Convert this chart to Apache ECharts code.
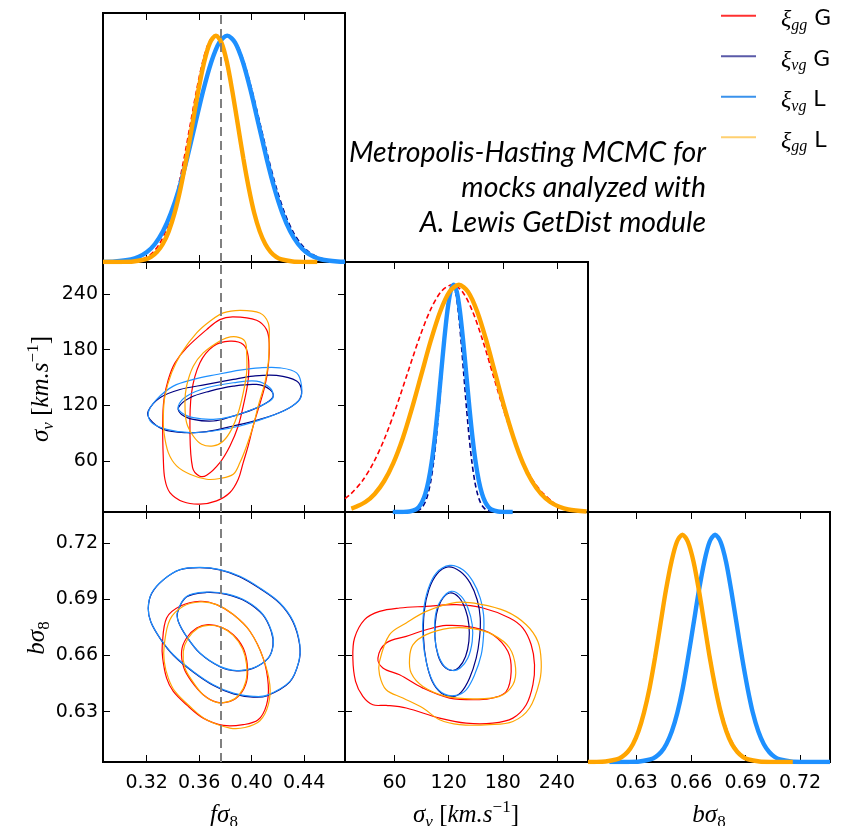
<!DOCTYPE html>
<html>
<head>
<meta charset="utf-8">
<script src="https://cdn.jsdelivr.net/npm/echarts@6.0.0/dist/echarts.min.js"></script>
<style>
  html, body { margin: 0; padding: 0; background: #fff; }
  #chart { width: 844px; height: 826px; }
</style>
</head>
<body>
<div id="chart"></div>
<script>
// ---------- parameter ranges and ticks ----------
const FS8_RANGE = [0.2867, 0.4712];
const SV_RANGE = [5, 274.5];
const BS8_RANGE = [0.6032, 0.7365];
const FS8_TICKS = [0.32, 0.36, 0.40, 0.44];
const SV_TICKS = [60, 120, 180, 240];
const BS8_TICKS = [0.63, 0.66, 0.69, 0.72];
const FID_FS8 = 0.3765;   // fiducial f*sigma8 of the mocks

// ---------- 1D marginal posteriors (normalised to peak = 1) ----------
const fs8_ggG = [[0.2867,0],[0.2968,0.0003],[0.3062,0.0022],[0.3156,0.0111],[0.3203,0.0228],[0.3250,0.0439],[0.3297,0.0796],[0.3344,0.1353],[0.3391,0.2163],[0.3438,0.3247],[0.3485,0.4578],[0.3532,0.6065],[0.3579,0.7548],[0.3626,0.8825],[0.3673,0.9692],[0.3720,1],[0.3763,0.9692],[0.3805,0.8825],[0.3848,0.7548],[0.3890,0.6065],[0.3933,0.4578],[0.3975,0.3247],[0.4018,0.2163],[0.4060,0.1353],[0.4103,0.0796],[0.4145,0.0439],[0.4188,0.0228],[0.4230,0.0111],[0.4315,0.0022],[0.4400,0.0003],[0.4500,0]];
const fs8_vgG = [[0.2867,0.0005],[0.2961,0.0022],[0.3083,0.0111],[0.3144,0.0228],[0.3206,0.0439],[0.3267,0.0796],[0.3328,0.1353],[0.3389,0.2163],[0.3451,0.3247],[0.3512,0.4578],[0.3573,0.6065],[0.3634,0.7548],[0.3696,0.8825],[0.3757,0.9692],[0.3818,1],[0.3880,0.9692],[0.3942,0.8825],[0.4004,0.7548],[0.4066,0.6065],[0.4128,0.4578],[0.4190,0.3247],[0.4252,0.2163],[0.4314,0.1353],[0.4376,0.0796],[0.4438,0.0439],[0.4500,0.0228],[0.4562,0.0111],[0.4686,0.0022],[0.4712,0.0015]];
const fs8_vgL = [[0.2867,0.0006],[0.2957,0.0022],[0.3079,0.0111],[0.3140,0.0228],[0.3202,0.0439],[0.3263,0.0796],[0.3324,0.1353],[0.3385,0.2163],[0.3447,0.3247],[0.3508,0.4578],[0.3569,0.6065],[0.3630,0.7548],[0.3692,0.8825],[0.3753,0.9692],[0.3814,1],[0.3874,0.9692],[0.3934,0.8825],[0.3994,0.7548],[0.4054,0.6065],[0.4114,0.4578],[0.4174,0.3247],[0.4234,0.2163],[0.4294,0.1353],[0.4354,0.0796],[0.4414,0.0439],[0.4474,0.0228],[0.4534,0.0111],[0.4654,0.0022],[0.4712,0.0009]];
const fs8_ggL = [[0.2867,0],[0.3008,0.0003],[0.3098,0.0022],[0.3188,0.0111],[0.3233,0.0228],[0.3278,0.0439],[0.3323,0.0796],[0.3368,0.1353],[0.3413,0.2163],[0.3458,0.3247],[0.3503,0.4578],[0.3548,0.6065],[0.3593,0.7548],[0.3638,0.8825],[0.3683,0.9692],[0.3728,1],[0.3770,0.9692],[0.3812,0.8825],[0.3853,0.7548],[0.3895,0.6065],[0.3937,0.4578],[0.3979,0.3247],[0.4020,0.2163],[0.4062,0.1353],[0.4104,0.0796],[0.4146,0.0439],[0.4187,0.0228],[0.4229,0.0111],[0.4313,0.0022],[0.4396,0.0003],[0.4500,0]];

const sv_ggG = [[5,0.059],[11.5,0.0796],[24,0.1353],[36.5,0.2163],[49,0.3247],[61.5,0.4578],[74,0.6065],[86.5,0.7548],[99,0.8825],[111.5,0.9692],[124,1],[135.25,0.9692],[146.5,0.8825],[157.75,0.7548],[169,0.6065],[180.25,0.4578],[191.5,0.3247],[202.75,0.2163],[214,0.1353],[225.25,0.0796],[236.5,0.040],[242,0.015]];
const sv_vgG = [[75.7,0.0003],[81.8,0.0022],[87.9,0.0111],[90.95,0.0228],[94.0,0.0439],[97.05,0.0796],[100.1,0.1353],[103.15,0.2163],[106.2,0.3247],[109.25,0.4578],[112.3,0.6065],[115.35,0.7548],[118.4,0.8825],[121.45,0.9692],[124.5,1],[127.55,0.9692],[130.6,0.8825],[133.65,0.7548],[136.7,0.6065],[139.75,0.4578],[142.8,0.3247],[145.85,0.2163],[148.9,0.1353],[151.95,0.0796],[155.0,0.0439],[158.05,0.0228],[161.1,0.0111],[167.2,0.0022],[173.3,0.0003]];
const sv_vgL = [[58,0],[69.5,0.0003],[76.5,0.0022],[83.5,0.0111],[87,0.0228],[90.5,0.0439],[94,0.0796],[97.5,0.1353],[101,0.2163],[104.5,0.3247],[108,0.4578],[111.5,0.6065],[115,0.7548],[118.5,0.8825],[122,0.9692],[125.5,1],[129,0.9692],[132.5,0.8825],[136,0.7548],[139.5,0.6065],[143,0.4578],[146.5,0.3247],[150,0.2163],[153.5,0.1353],[157,0.0796],[160.5,0.0439],[164,0.0228],[167.5,0.0111],[174.5,0.0022],[181.5,0.0003],[191,0]];
const sv_ggL = [[12,0.015],[17.2,0.0228],[27.6,0.0439],[37.9,0.0796],[48.3,0.1353],[58.7,0.2163],[69.1,0.3247],[79.4,0.4578],[89.8,0.6065],[100.2,0.7548],[110.6,0.8825],[120.9,0.9692],[131.3,1],[141.4,0.9692],[151.6,0.8825],[161.7,0.7548],[171.8,0.6065],[181.9,0.4578],[192.1,0.3247],[202.2,0.2163],[212.3,0.1353],[222.4,0.0796],[232.6,0.0439],[242.7,0.0228],[252.8,0.0111],[273,0.0022]];

const bs8_ggG = [[0.6032,0.0001],[0.6068,0.0003],[0.6128,0.0022],[0.6189,0.0111],[0.6219,0.0228],[0.6250,0.0439],[0.6280,0.0796],[0.6310,0.1353],[0.6340,0.2163],[0.6371,0.3247],[0.6401,0.4578],[0.6431,0.6065],[0.6461,0.7548],[0.6492,0.8825],[0.6522,0.9692],[0.6552,1],[0.6583,0.9692],[0.6614,0.8825],[0.6645,0.7548],[0.6676,0.6065],[0.6707,0.4578],[0.6738,0.3247],[0.6769,0.2163],[0.6800,0.1353],[0.6831,0.0796],[0.6862,0.0439],[0.6893,0.0228],[0.6924,0.0111],[0.6986,0.0022],[0.7048,0.0003],[0.716,0]];
const bs8_vgG = [[0.615,0],[0.6258,0.0003],[0.6318,0.0022],[0.6377,0.0111],[0.6407,0.0228],[0.6437,0.0439],[0.6466,0.0796],[0.6496,0.1353],[0.6526,0.2163],[0.6556,0.3247],[0.6585,0.4578],[0.6615,0.6065],[0.6645,0.7548],[0.6675,0.8825],[0.6704,0.9692],[0.6734,1],[0.6764,0.9692],[0.6794,0.8825],[0.6823,0.7548],[0.6853,0.6065],[0.6883,0.4578],[0.6913,0.3247],[0.6942,0.2163],[0.6972,0.1353],[0.7002,0.0796],[0.7032,0.0439],[0.7061,0.0228],[0.7091,0.0111],[0.7151,0.0022],[0.7210,0.0003],[0.7365,0]];
const bs8_vgL = [[0.615,0],[0.6256,0.0003],[0.6316,0.0022],[0.6375,0.0111],[0.6405,0.0228],[0.6435,0.0439],[0.6464,0.0796],[0.6494,0.1353],[0.6524,0.2163],[0.6554,0.3247],[0.6583,0.4578],[0.6613,0.6065],[0.6643,0.7548],[0.6673,0.8825],[0.6702,0.9692],[0.6732,1],[0.6762,0.9692],[0.6792,0.8825],[0.6821,0.7548],[0.6851,0.6065],[0.6881,0.4578],[0.6911,0.3247],[0.6940,0.2163],[0.6970,0.1353],[0.7000,0.0796],[0.7030,0.0439],[0.7059,0.0228],[0.7089,0.0111],[0.7149,0.0022],[0.7208,0.0003],[0.7365,0]];
const bs8_ggL = [[0.6032,0.0001],[0.6068,0.0003],[0.6128,0.0022],[0.6189,0.0111],[0.6219,0.0228],[0.6250,0.0439],[0.6280,0.0796],[0.6310,0.1353],[0.6340,0.2163],[0.6371,0.3247],[0.6401,0.4578],[0.6431,0.6065],[0.6461,0.7548],[0.6492,0.8825],[0.6522,0.9692],[0.6552,1],[0.6582,0.9692],[0.6613,0.8825],[0.6643,0.7548],[0.6673,0.6065],[0.6703,0.4578],[0.6734,0.3247],[0.6764,0.2163],[0.6794,0.1353],[0.6824,0.0796],[0.6855,0.0439],[0.6885,0.0228],[0.6915,0.0111],[0.6976,0.0022],[0.7036,0.0003],[0.716,0]];

// ---------- 2D contours (68% and 95%) : f*sigma8 vs sigma_v ----------
const fsSv_ggG_95 = [[0.3860,215.3],[0.4038,211.7],[0.4114,201.6],[0.4134,187.3],[0.4127,162.2],[0.4101,140.7],[0.4050,115.6],[0.4012,97.7],[0.3974,76.2],[0.3936,58.3],[0.3898,40.3],[0.3835,26.0],[0.3733,17.0],[0.3606,13.5],[0.3479,16.0],[0.3377,26.0],[0.3339,40.3],[0.3327,61.9],[0.3322,101.3],[0.3332,126.4],[0.3365,147.9],[0.3416,165.8],[0.3504,181.9],[0.3657,201.6],[0.3758,212.4]];
const fsSv_ggG_68 = [[0.3835,189.1],[0.3936,185.5],[0.3974,172.9],[0.3974,147.9],[0.3936,119.2],[0.3898,97.7],[0.3835,76.2],[0.3758,58.3],[0.3657,44.6],[0.3601,43.9],[0.3550,52.9],[0.3530,90.5],[0.3542,133.5],[0.3606,165.8],[0.3708,183.7]];
const fsSv_vgG_95 = [[0.3212,113.8],[0.3301,128.2],[0.3454,137.1],[0.3657,142.5],[0.3860,147.9],[0.4012,151.5],[0.4190,152.2],[0.4343,146.1],[0.4381,135.3],[0.4355,124.6],[0.4241,113.8],[0.4063,104.9],[0.3860,97.7],[0.3657,91.6],[0.3504,90.5],[0.3327,94.1],[0.3225,104.9]];
const fsSv_vgG_68 = [[0.3441,117.4],[0.3530,128.2],[0.3682,135.3],[0.3860,140.7],[0.4038,142.5],[0.4139,137.1],[0.4165,129.9],[0.4114,122.8],[0.4012,115.6],[0.3860,108.4],[0.3708,103.1],[0.3555,104.9],[0.3466,110.2]];
const fsSv_vgL_95 = [[0.3212,112.0],[0.3276,126.4],[0.3403,140.7],[0.3555,147.9],[0.3733,153.2],[0.3911,157.9],[0.4063,160.4],[0.4216,160.4],[0.4343,155.0],[0.4381,140.7],[0.4368,126.4],[0.4266,115.6],[0.4114,106.7],[0.3911,97.7],[0.3708,92.3],[0.3530,90.5],[0.3352,94.1],[0.3238,101.3]];
const fsSv_vgL_68 = [[0.3441,119.2],[0.3504,129.9],[0.3657,138.9],[0.3860,144.3],[0.4038,146.1],[0.4139,138.9],[0.4165,129.9],[0.4139,124.6],[0.4038,117.4],[0.3860,108.4],[0.3708,104.9],[0.3555,106.7],[0.3466,112.0]];
const fsSv_ggL_95 = [[0.3911,222.4],[0.4063,219.6],[0.4127,208.8],[0.4134,190.9],[0.4127,165.8],[0.4101,144.3],[0.4050,119.2],[0.4012,97.7],[0.3962,76.2],[0.3911,58.3],[0.3860,45.7],[0.3758,41.1],[0.3657,40.3],[0.3530,45.7],[0.3428,54.7],[0.3365,69.0],[0.3332,90.5],[0.3327,108.4],[0.3339,129.9],[0.3390,155.0],[0.3466,176.5],[0.3581,198.0],[0.3682,210.6],[0.3784,219.6]];
const fsSv_ggL_68 = [[0.3885,193.7],[0.3949,189.1],[0.3962,176.5],[0.3962,155.0],[0.3936,133.5],[0.3898,112.0],[0.3847,94.1],[0.3784,81.6],[0.3708,76.2],[0.3619,78.0],[0.3555,86.9],[0.3504,101.3],[0.3492,122.8],[0.3504,140.7],[0.3555,162.2],[0.3631,176.5],[0.3733,187.3],[0.3809,192.7]];

// ---------- 2D contours : f*sigma8 vs b*sigma8 ----------
const fsBs_ggG_95 = [[0.3319,0.6657],[0.3352,0.6800],[0.3454,0.6862],[0.3606,0.6889],[0.3733,0.6871],[0.3860,0.6818],[0.3987,0.6729],[0.4088,0.6586],[0.4127,0.6444],[0.4114,0.6337],[0.4050,0.6257],[0.3936,0.6231],[0.3784,0.6227],[0.3631,0.6266],[0.3504,0.6337],[0.3403,0.6408],[0.3352,0.6479],[0.3322,0.6586]];
const fsBs_ggG_68 = [[0.3466,0.6622],[0.3504,0.6693],[0.3581,0.6746],[0.3669,0.6764],[0.3771,0.6750],[0.3860,0.6711],[0.3936,0.6640],[0.3967,0.6551],[0.3962,0.6462],[0.3911,0.6391],[0.3835,0.6355],[0.3733,0.6351],[0.3631,0.6391],[0.3542,0.6462],[0.3484,0.6533]];
const fsBs_vgG_95 = [[0.4012,0.6378],[0.4114,0.6384],[0.4290,0.6458],[0.4360,0.6566],[0.4366,0.6657],[0.4315,0.6780],[0.4214,0.6878],[0.4060,0.6958],[0.3908,0.7020],[0.3758,0.7056],[0.3606,0.7068],[0.3454,0.7057],[0.3327,0.7003],[0.3238,0.6930],[0.3212,0.6850],[0.3232,0.6778],[0.3303,0.6690],[0.3405,0.6600],[0.3557,0.6511],[0.3710,0.6440],[0.3862,0.6395]];
const fsBs_vgG_68 = [[0.3437,0.6833],[0.3505,0.6913],[0.3657,0.6936],[0.3809,0.6926],[0.3960,0.6887],[0.4086,0.6816],[0.4150,0.6727],[0.4163,0.6655],[0.4125,0.6584],[0.4010,0.6531],[0.3885,0.6518],[0.3758,0.6540],[0.3607,0.6611],[0.3505,0.6700],[0.3442,0.6780]];
const fsBs_vgL_95 = [[0.4012,0.6382],[0.4114,0.6387],[0.4292,0.6462],[0.4360,0.6568],[0.4368,0.6657],[0.4317,0.6782],[0.4216,0.6880],[0.4063,0.6960],[0.3911,0.7022],[0.3758,0.7058],[0.3606,0.7070],[0.3454,0.7058],[0.3327,0.7004],[0.3238,0.6933],[0.3212,0.6853],[0.3230,0.6782],[0.3301,0.6693],[0.3403,0.6604],[0.3555,0.6515],[0.3708,0.6444],[0.3860,0.6399]];
const fsBs_vgL_68 = [[0.3436,0.6835],[0.3504,0.6915],[0.3657,0.6938],[0.3809,0.6928],[0.3962,0.6889],[0.4088,0.6818],[0.4152,0.6729],[0.4165,0.6657],[0.4127,0.6586],[0.4012,0.6533],[0.3885,0.6520],[0.3758,0.6542],[0.3606,0.6613],[0.3504,0.6702],[0.3441,0.6782]];
const fsBs_ggL_95 = [[0.3334,0.6657],[0.3377,0.6791],[0.3479,0.6862],[0.3606,0.6885],[0.3733,0.6871],[0.3860,0.6818],[0.3987,0.6729],[0.4088,0.6586],[0.4139,0.6444],[0.4127,0.6337],[0.4063,0.6252],[0.3949,0.6216],[0.3835,0.6213],[0.3657,0.6257],[0.3530,0.6328],[0.3416,0.6408],[0.3365,0.6479],[0.3334,0.6568]];
const fsBs_ggL_68 = [[0.3479,0.6622],[0.3517,0.6693],[0.3593,0.6746],[0.3669,0.6761],[0.3771,0.6750],[0.3860,0.6707],[0.3931,0.6636],[0.3962,0.6551],[0.3956,0.6462],[0.3906,0.6391],[0.3830,0.6355],[0.3733,0.6350],[0.3636,0.6387],[0.3550,0.6462],[0.3492,0.6533]];

// ---------- 2D contours : sigma_v vs b*sigma8 ----------
const svBs_ggG_95 = [[13.7,0.6586],[15.6,0.6693],[26.7,0.6791],[43.3,0.6835],[65.5,0.6853],[95.1,0.6862],[128.4,0.6871],[158.0,0.6853],[187.5,0.6800],[202.3,0.6746],[211.5,0.6657],[215.2,0.6551],[213.4,0.6444],[206.0,0.6337],[191.2,0.6266],[169.0,0.6239],[139.4,0.6239],[109.9,0.6266],[72.9,0.6320],[50.7,0.6334],[35.9,0.6337],[24.8,0.6382],[16.7,0.6462]];
const svBs_ggG_68 = [[41.5,0.6586],[50.7,0.6666],[72.9,0.6702],[95.1,0.6737],[117.3,0.6760],[146.8,0.6750],[169.0,0.6711],[185.6,0.6622],[189.3,0.6515],[183.8,0.6408],[169.0,0.6373],[154.2,0.6364],[121.0,0.6373],[91.4,0.6426],[65.5,0.6497],[47.0,0.6533]];
const svBs_vgG_95 = [[119.1,0.7072],[132.8,0.7048],[143.9,0.6986],[151.6,0.6897],[155.0,0.6800],[154.2,0.6693],[150.5,0.6586],[143.1,0.6479],[133.9,0.6405],[124.7,0.6382],[111.7,0.6400],[101.7,0.6462],[95.1,0.6568],[92.1,0.6693],[92.9,0.6835],[98.0,0.6951],[106.9,0.7034]];
const svBs_vgG_68 = [[121.0,0.6933],[131.3,0.6910],[138.7,0.6844],[142.4,0.6764],[142.4,0.6675],[138.7,0.6595],[131.3,0.6536],[123.9,0.6520],[114.7,0.6542],[108.0,0.6604],[104.7,0.6702],[106.2,0.6817],[111.7,0.6892]];
const svBs_vgL_95 = [[121.0,0.7080],[135.7,0.7057],[146.8,0.6995],[155.0,0.6906],[158.7,0.6817],[158.7,0.6711],[156.1,0.6604],[148.7,0.6497],[139.4,0.6417],[128.4,0.6387],[115.4,0.6394],[104.3,0.6444],[95.8,0.6551],[91.4,0.6693],[92.1,0.6835],[97.0,0.6951],[106.2,0.7039]];
const svBs_vgL_68 = [[122.8,0.6942],[133.9,0.6915],[141.3,0.6853],[146.1,0.6764],[146.1,0.6675],[141.3,0.6586],[132.8,0.6533],[124.7,0.6520],[115.4,0.6542],[108.4,0.6604],[104.7,0.6693],[105.4,0.6817],[111.7,0.6897]];
const svBs_ggL_95 = [[43.3,0.6568],[54.4,0.6711],[72.9,0.6773],[95.1,0.6835],[128.4,0.6883],[154.2,0.6874],[183.8,0.6835],[206.0,0.6764],[218.9,0.6675],[222.6,0.6568],[220.8,0.6462],[209.7,0.6320],[191.2,0.6248],[165.3,0.6231],[132.1,0.6231],[109.9,0.6257],[91.4,0.6320],[69.2,0.6373],[50.7,0.6417],[43.3,0.6497]];
const svBs_ggL_68 = [[76.6,0.6586],[80.3,0.6657],[95.1,0.6711],[121.0,0.6746],[146.8,0.6743],[169.0,0.6711],[187.5,0.6640],[194.2,0.6533],[191.2,0.6444],[176.4,0.6382],[146.8,0.6369],[117.3,0.6382],[91.4,0.6435],[78.4,0.6506]];

// ---------- styling ----------
const KEYS = ['ggG', 'vgG', 'vgL', 'ggL'];          // drawing / legend order
const NAMES = { ggG: 'ξgg G', vgG: 'ξvg G', vgL: 'ξvg L', ggL: 'ξgg L' };
const COLORS = { ggG: '#ff0000', vgG: '#000080', vgL: '#1e90ff', ggL: '#ffa500' };
const LEGEND_COLORS = { ggG: '#ff3030', vgG: '#5a5aa8', vgL: '#3a92ec', ggL: '#ffd070' };
const LABEL_FONT = { fontFamily: 'DejaVu Sans', fontSize: 19, color: '#000' };
const fmt2 = v => v.toFixed(2);
const fmt0 = v => String(Math.round(v));

// ---------- grids (triangle layout) ----------
const gridBoxes = [
  { left: 103, top: 13,  width: 242, height: 249 },  // 0  f sigma8 marginal
  { left: 103, top: 262, width: 242, height: 250 },  // 1  f sigma8 - sigma_v
  { left: 103, top: 512, width: 242, height: 250 },  // 2  f sigma8 - b sigma8
  { left: 345, top: 262, width: 243, height: 250 },  // 3  sigma_v marginal
  { left: 345, top: 512, width: 243, height: 250 },  // 4  sigma_v - b sigma8
  { left: 588, top: 512, width: 242, height: 250 }   // 5  b sigma8 marginal
];
const grids = gridBoxes.map(b => Object.assign({
  show: true, borderColor: '#000', borderWidth: 2, backgroundColor: 'transparent', containLabel: false
}, b));

const xAxes = [], yAxes = [];
function tickStyle(ticks) {
  return { show: true, inside: true, length: 7, customValues: ticks, lineStyle: { color: '#000', width: 1 } };
}
function addX(grid, range, ticks, fmt, labels) {
  const base = { type: 'value', gridIndex: grid, min: range[0], max: range[1],
    splitLine: { show: false }, axisLine: { show: false }, axisTick: tickStyle(ticks) };
  const idx = xAxes.length;
  xAxes.push(Object.assign({}, base, { position: 'bottom',
    axisLabel: Object.assign({ show: labels, customValues: ticks, formatter: fmt, margin: 12 }, LABEL_FONT) }));
  xAxes.push(Object.assign({}, base, { position: 'top', axisLabel: { show: false } }));
  return idx;
}
function addY(grid, range, ticks, fmt, labels) {
  const base = { type: 'value', gridIndex: grid, min: range[0], max: range[1],
    splitLine: { show: false }, axisLine: { show: false }, axisTick: tickStyle(ticks) };
  const idx = yAxes.length;
  yAxes.push(Object.assign({}, base, { position: 'left',
    axisLabel: Object.assign({ show: labels, customValues: ticks, formatter: fmt, margin: 5 }, LABEL_FONT) }));
  yAxes.push(Object.assign({}, base, { position: 'right', axisLabel: { show: false } }));
  return idx;
}
function addDensityY(grid) {
  const idx = yAxes.length;
  yAxes.push({ type: 'value', gridIndex: grid, min: 0, max: 1.1, show: false });
  return idx;
}

const ax = [];
ax[0] = { x: addX(0, FS8_RANGE, FS8_TICKS, fmt2, false), y: addDensityY(0) };
ax[1] = { x: addX(1, FS8_RANGE, FS8_TICKS, fmt2, false), y: addY(1, SV_RANGE, SV_TICKS, fmt0, true) };
ax[2] = { x: addX(2, FS8_RANGE, FS8_TICKS, fmt2, true),  y: addY(2, BS8_RANGE, BS8_TICKS, fmt2, true) };
ax[3] = { x: addX(3, SV_RANGE, SV_TICKS, fmt0, false),   y: addDensityY(3) };
ax[4] = { x: addX(4, SV_RANGE, SV_TICKS, fmt0, true),    y: addY(4, BS8_RANGE, BS8_TICKS, fmt2, false) };
ax[5] = { x: addX(5, BS8_RANGE, BS8_TICKS, fmt2, true),  y: addDensityY(5) };

// ---------- series ----------
const series = [];
function marginal(key, data, a) {
  const dashed = key.endsWith('G');
  series.push({
    type: 'line', name: NAMES[key], xAxisIndex: a.x, yAxisIndex: a.y, data,
    smooth: 0.3, symbol: 'none', showSymbol: false, silent: true, clip: true,
    lineStyle: { color: COLORS[key], width: dashed ? 1.6 : 4.4, type: dashed ? [5, 3] : 'solid' },
    itemStyle: { color: COLORS[key] }, emphasis: { disabled: true }, z: 3
  });
}
function contour(key, pts, a) {
  const color = COLORS[key];
  series.push({
    type: 'custom', name: NAMES[key], xAxisIndex: a.x, yAxisIndex: a.y, data: pts,
    encode: { x: 0, y: 1 }, clip: true, silent: true, itemStyle: { color }, z: 3,
    renderItem(params, api) {
      if (params.dataIndexInside !== 0) return null;
      const n = params.dataInsideLength;
      const points = [];
      for (let i = 0; i < n; i++) points.push(api.coord([api.value(0, i), api.value(1, i)]));
      return { type: 'polygon', shape: { points, smooth: 0.35 },
               style: { fill: 'none', stroke: color, lineWidth: 1.2 } };
    }
  });
}
function fiducial(a) {
  series.push({
    type: 'line', xAxisIndex: a.x, yAxisIndex: a.y, data: [], silent: true, z: 6,
    markLine: { symbol: 'none', silent: true, animation: false, precision: 6, label: { show: false },
      lineStyle: { color: '#808080', width: 2, type: [9, 5] }, data: [{ xAxis: FID_FS8 }] }
  });
}

const marg = {
  0: { ggG: fs8_ggG, vgG: fs8_vgG, vgL: fs8_vgL, ggL: fs8_ggL },
  3: { ggG: sv_ggG,  vgG: sv_vgG,  vgL: sv_vgL,  ggL: sv_ggL },
  5: { ggG: bs8_ggG, vgG: bs8_vgG, vgL: bs8_vgL, ggL: bs8_ggL }
};
const cont = {
  1: { ggG: [fsSv_ggG_95, fsSv_ggG_68], vgG: [fsSv_vgG_95, fsSv_vgG_68], vgL: [fsSv_vgL_95, fsSv_vgL_68], ggL: [fsSv_ggL_95, fsSv_ggL_68] },
  2: { ggG: [fsBs_ggG_95, fsBs_ggG_68], vgG: [fsBs_vgG_95, fsBs_vgG_68], vgL: [fsBs_vgL_95, fsBs_vgL_68], ggL: [fsBs_ggL_95, fsBs_ggL_68] },
  4: { ggG: [svBs_ggG_95, svBs_ggG_68], vgG: [svBs_vgG_95, svBs_vgG_68], vgL: [svBs_vgL_95, svBs_vgL_68], ggL: [svBs_ggL_95, svBs_ggL_68] }
};
[0, 3, 5].forEach(g => KEYS.forEach(k => marginal(k, marg[g][k], ax[g])));
[1, 2, 4].forEach(g => KEYS.forEach(k => cont[g][k].forEach(c => contour(k, c, ax[g]))));
[0, 1, 2].forEach(g => fiducial(ax[g]));

// ---------- math-style text ----------
const SERIF = 'Liberation Serif';
const mathRich = {
  i: { fontFamily: SERIF, fontStyle: 'italic', fontSize: 25, lineHeight: 32, fill: '#000' },
  n: { fontFamily: SERIF, fontSize: 25, lineHeight: 32, fill: '#000' },
  s: { fontFamily: SERIF, fontStyle: 'italic', fontSize: 17, lineHeight: 14, verticalAlign: 'bottom', fill: '#000' },
  d: { fontFamily: SERIF, fontSize: 17, lineHeight: 14, verticalAlign: 'bottom', fill: '#000' },
  p: { fontFamily: SERIF, fontSize: 17, lineHeight: 14, verticalAlign: 'top', fill: '#000' }
};
const TITLE_FS8 = '{i|fσ}{d|8}';
const TITLE_BS8 = '{i|bσ}{d|8}';
const TITLE_SV = '{i|σ}{s|v}{n| [}{i|km.s}{p|−1}{n|]}';
function mathText(text, x, y, rot) {
  return { type: 'text', x, y, rotation: rot || 0, silent: true,
    style: { text, rich: mathRich, align: 'center', verticalAlign: 'middle' } };
}

// ---------- key (legend) in the upper-right corner ----------
const legendRich = {
  x: { fontFamily: SERIF, fontStyle: 'italic', fontSize: 24, lineHeight: 28, fill: '#000' },
  s: { fontFamily: SERIF, fontStyle: 'italic', fontSize: 16, lineHeight: 12, verticalAlign: 'bottom', fill: '#000' },
  t: { fontFamily: 'DejaVu Sans', fontSize: 22, lineHeight: 28, fill: '#000' }
};
const legendItems = [];
KEYS.forEach((k, i) => {
  const y = 15.7 + 40.5 * i;
  const parts = NAMES[k].split(' ');
  legendItems.push({ type: 'line', silent: true,
    shape: { x1: 721, y1: y, x2: 756, y2: y }, style: { stroke: LEGEND_COLORS[k], lineWidth: 2 } });
  legendItems.push({ type: 'text', x: 781, y: y + 4, silent: true,
    style: { text: '{x|ξ}{s|' + parts[0].slice(1) + '}{t| ' + parts[1] + '}', rich: legendRich,
      align: 'left', verticalAlign: 'middle' } });
});

const option = {
  animation: false,
  grid: grids,
  xAxis: xAxes,
  yAxis: yAxes,
  series,
  graphic: [
    mathText(TITLE_FS8, 224, 815),
    mathText(TITLE_SV, 466, 815),
    mathText(TITLE_BS8, 709, 815),
    mathText(TITLE_SV, 41, 389, Math.PI / 2),
    mathText(TITLE_BS8, 37, 638, Math.PI / 2),
    { type: 'text', x: 706, y: 135, silent: true,
      style: { text: 'Metropolis-Hasting MCMC for\nmocks analyzed with\nA. Lewis GetDist module',
        align: 'right', verticalAlign: 'top', fontFamily: 'Lato', fontStyle: 'italic',
        fontSize: 28.4, lineHeight: 35, fill: '#000' } }
  ].concat(legendItems)
};

const chart = echarts.init(document.getElementById('chart'), null, { renderer: 'canvas' });
chart.setOption(option);
</script>
</body>
</html>
